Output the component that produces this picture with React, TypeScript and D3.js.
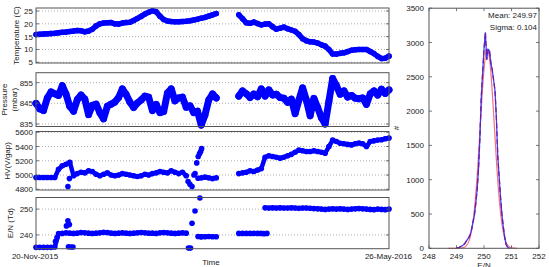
import React from 'react';
import * as d3 from 'd3';

// ---------- DATA ----------
const START = new Date(2015, 10, 20);
const END = new Date(2016, 4, 26);
const STEP_DAYS = 2;
const startLabel = '20-Nov-2015';
const endLabel = '26-May-2016';

const N = null;
const temperature: (number | null)[] = [
  15.8, 15.9, 16.0, 16.1, 16.2, 16.3, 16.5, 16.7, 16.8, 17.0, 17.2, 17.4, 17.3, 16.9, 17.2, 17.9, 19.2, 20.0, 20.3, 20.4,
  20.5, 20.0, 19.9, 20.3, 20.5, 20.6, 21.3, 22.1, 22.9, 23.8, 24.5, 25.1, 24.7, 23.0, 21.7, 21.1, 20.9, 20.8, 20.8, 20.9,
  21.0, 21.2, 21.5, 21.8, 22.2, 22.5, 23.0, 23.5, 24.0,
  N, N, N, N, N,
  23.5, 22.0, 20.4, 20.2, 20.7, 20.1, 19.6, 19.9, 20.0, 18.9, 17.9, 18.3, 18.7, 18.1, 17.6, 17.1, 15.8, 14.2, 13.4, 13.0,
  12.9, 12.5, 11.8, 11.3, 10.0, 8.2, 8.2, 8.5, 8.7, 9.2, 9.7, 9.9, 10.0, 10.0, 10.0, 9.2, 8.4, 7.3, 6.5, 6.6, 7.4,
];

const pressure: (number | null)[] = [
  845, 842.3, 841.5, 847.5, 850.5, 849.6, 848.8, 853.5, 849.4, 843.5, 841.2, 846.8, 849, 847, 839.5, 844, 844.6, 840.5, 837.5, 843.6,
  844.6, 845.6, 847.8, 852, 849.3, 845.6, 843, 845.2, 846.6, 848.5, 848, 841.5, 844.5, 840.5, 841, 850, 852, 846.2, 847.6, 848,
  843.1, 843.8, 840.5, 841.2, 834.5, 839.4, 846.6, 849.5, 847.6,
  N, N, N, N, N,
  848.5, 851, 849.6, 847.8, 849.5, 848.2, 852, 848.5, 851.5, 849, 849.4, 847.8, 847.5, 845.5, 847, 840, 846.5, 852.5, 846.5, 839,
  847.4, 843, 838, 835, 846, 857, 853.5, 849.4, 851, 848, 848.8, 847.5, 847.2, 847.6, 844.5, 849.6, 851, 849, 851.8, 849.8, 851.5,
];

const hv: (number | null)[] = [
  4965, 4965, 4965, 4965, 4965, 4965, 5080, 5130, 5150, 5180, 4990, 5020, 5040, 5030, 5060, 5050, 5010, 4990, 5010, 5030,
  5000, 4990, 5000, 5020, 5010, 5000, 4990, 4980, 4990, 5010, 5000, 5020, 5030, 5050, 5040, 5030, 5060, 5040, 5020, 5040,
  4990, N, N, N, 4960, 4970, 4960, 4950, 4960,
  N, N, N, N, N,
  5020, 5030, 5040, 5060, 5050, 5070, 5090, 5250, 5270, 5260, 5250, 5237, 5250, 5270, 5290, 5320, 5350, 5340, 5330, 5330,
  5340, 5330, 5320, 5306, 5400, 5490, 5470, 5446, 5440, 5430, 5423, 5440, 5450, 5440, 5400, 5470, 5480, 5490, 5495, 5510, 5520,
];
const hvExtraDays = [17.0, 17.8, 81.0, 82.0, 83.1, 84.1, 84.7, 85.6, 86.3, 86.4, 87.1, 87.7, 88.2];
const hvExtraValues = [4840, 4950, 4910, 4870, 4840, 5000, 5020, 5170, 4955, 5260, 5300, 5330, 5370];

const en: (number | null)[] = [
  235.2, 235.2, 235.2, 235.2, 235.2, 235.3, 240.5,
  240.6, 240.8, 240.7, 240.6, 240.7, 240.9, 240.8, 240.7, 240.6, 240.7, 240.8, 241.0, 240.9, 240.7, 240.6, 240.7, 240.8,
  240.7, 240.6, 240.7, 240.8, 240.9, 240.8, 240.7, 240.7, 240.6, 240.8, 240.9, 240.8, 240.7, 240.6, 240.7, 240.8, 240.7,
  N, N, N, 239.3, 239.3, 239.4, 239.3, 239.3,
  N, N, N, N, N,
  240.6, 240.6, 240.6, 240.6, 240.6, 240.6, N,
  250.5, 250.4, 250.5, 250.4, 250.5, 250.4, 250.4, 250.5, 250.4, 250.3, 250.4, 250.4, 250.3, 250.2, 250.1, 250.0, 249.9,
  250.0, 250.1, 250.0, 250.1, 250.0, 249.9, 250.0, 250.1, 250.2, 250.1, 250.0, 249.9, 249.8, 250.0, 249.9, 249.8, 250.0,
];
const enExtraDays = [10.4, 11.2, 16.2, 17.0, 17.8, 17.3, 18.6, 19.7, 81.2, 82.3, 83.1, 84.7, 87.3, 86.3, 87.9, 119.8, 121.4, 123.0];
const enExtraValues = [237.5, 239.0, 243.5, 245.5, 244.0, 235.4, 235.3, 235.3, 234.9, 234.9, 244.5, 249.3, 254.3, 239.4, 239.3, 240.6, 240.5, 240.6];

const tempTicks = [5, 10, 15, 20, 25];
const pressTicks = [835, 845, 855];
const hvTicks = [4800, 5000, 5200, 5400, 5600];
const enTicks = [240, 250];

// histogram of E/N
const histCenters = [
  249.0, 249.05, 249.1, 249.15, 249.2, 249.25, 249.3, 249.35, 249.4, 249.45,
  249.5, 249.55, 249.6, 249.65, 249.7, 249.75, 249.8, 249.85, 249.9, 249.95,
  250.0, 250.05, 250.1, 250.15, 250.2, 250.25, 250.3, 250.35, 250.4, 250.45,
  250.5, 250.55, 250.6, 250.65, 250.7, 250.75, 250.8, 250.85, 250.9, 250.95,
];
const histCounts = [
  5, 10, 15, 25, 35, 50, 70, 100, 130, 160,
  200, 280, 380, 480, 650, 850, 1150, 1600, 2200, 2550,
  2900, 3150, 2750, 2900, 2880, 2700, 2600, 2450, 2300, 1900,
  1350, 1050, 750, 500, 320, 170, 60, 20, 5, 0,
];
const fitMean = 250.12;
const fitSigma = 0.26;
const fitAmp = 2900;
const fitRange = [248.7, 251.2];
const histXTicks = [248, 249, 250, 251, 252];
const histYTicks = [0, 500, 1000, 1500, 2000, 2500, 3000, 3500];
const meanText = 'Mean: 249.97';
const sigmaText = 'Sigma: 0.104';

// ---------- LAYOUT ----------
const W = 549, H = 267;
const FONT = "'Liberation Sans', Arial, sans-serif";
const FS = 8;
const TXT = '#222';
const AX = '#555';
const BLUE = '#0000ff';
const xL = 36, xR = 389;

const dateAt = (i: number) => d3.timeDay.offset(START, i * STEP_DAYS);
const dayDate = (d: number) => new Date(START.getTime() + d * 86400000);

const x = d3.scaleTime().domain([START, END]).range([xL, xR]);

type Panel = {
  top: number; bottom: number; domain: [number, number]; ticks: number[];
  values: (number | null)[]; extraDays?: number[]; extraValues?: number[];
  width: number; r: number; labels: string[]; labelX: number[];
};

const panels: Panel[] = [
  { top: 8, bottom: 63, domain: [4.73, 26.17], ticks: tempTicks, values: temperature, width: 5.5, r: 2.8, labels: ['Temperature (C)'], labelX: [16] },
  { top: 72.7, bottom: 126.5, domain: [833.8, 859.8], ticks: pressTicks, values: pressure, width: 7, r: 3.4, labels: ['Pressure', '(mbar)'], labelX: [4, 14] },
  { top: 131.5, bottom: 190, domain: [4790, 5611], ticks: hvTicks, values: hv, extraDays: hvExtraDays, extraValues: hvExtraValues, width: 4.5, r: 2.8, labels: ['HV(V/gap)'], labelX: [7.5] },
  { top: 197.5, bottom: 248.7, domain: [234.67, 254.5], ticks: enTicks, values: en, extraDays: enExtraDays, extraValues: enExtraValues, width: 4.5, r: 2.8, labels: ['E/N (Td)'], labelX: [10.5] },
];

function TimePanel({ p }: { p: Panel }) {
  const y = d3.scaleLinear().domain(p.domain).range([p.bottom, p.top]);
  const line = d3.line<number | null>()
    .defined((v) => v != null)
    .x((_, i) => x(dateAt(i)))
    .y((v) => y(v as number));
  const cy = (p.top + p.bottom) / 2;
  return (
    <g>
      {p.ticks.map((t) => (
        <line key={'g' + t} x1={xL} x2={xR} y1={y(t)} y2={y(t)} stroke="#9a9a9a" strokeWidth={0.8} strokeDasharray="1,2" />
      ))}
      <path d={line(p.values) || ''} fill="none" stroke={BLUE} strokeWidth={p.width} strokeLinejoin="round" strokeLinecap="round" />
      {p.values.map((v, i) => v == null ? null : (
        <circle key={'c' + i} cx={x(dateAt(i))} cy={y(v)} r={p.r} fill={BLUE} />
      ))}
      {(p.extraDays || []).map((d, i) => (
        <circle key={'e' + i} cx={x(dayDate(d))} cy={y(p.extraValues![i])} r={2.8} fill={BLUE} />
      ))}
      <rect x={xL} y={p.top} width={xR - xL} height={p.bottom - p.top} fill="none" stroke={AX} strokeWidth={1} />
      {p.ticks.map((t) => (
        <g key={'t' + t}>
          <line x1={xL} x2={xL + 3} y1={y(t)} y2={y(t)} stroke={AX} strokeWidth={0.8} />
          <line x1={xR - 3} x2={xR} y1={y(t)} y2={y(t)} stroke={AX} strokeWidth={0.8} />
          <text x={33} y={y(t) + 3} textAnchor="end" fontSize={FS} fill={TXT}>{t}</text>
        </g>
      ))}
      {p.labels.map((l, k) => (
        <text key={'l' + k} transform={`translate(${p.labelX[k]},${cy}) rotate(-90)`} textAnchor="middle" dominantBaseline="central" fontSize={FS} fill={TXT}>{l}</text>
      ))}
    </g>
  );
}

function Histogram() {
  const hx = d3.scaleLinear().domain([248, 252]).range([429, 539]);
  const hy = d3.scaleLinear().domain([0, 3500]).range([248.3, 8.2]);
  const pts = histCenters.map((c, i) => [c, histCounts[i]] as [number, number]);
  const hline = d3.line<[number, number]>().x((d) => hx(d[0])).y((d) => hy(d[1]));
  const fitPts = d3.range(fitRange[0], fitRange[1] + 1e-9, 0.01).map(
    (v) => [v, fitAmp * Math.exp(-((v - fitMean) ** 2) / (2 * fitSigma * fitSigma))] as [number, number]
  );
  return (
    <g>
      <path d={hline(fitPts) || ''} fill="none" stroke="#f2707e" strokeWidth={1.2} />
      <path d={hline(pts) || ''} fill="none" stroke="#3a3aff" strokeWidth={1.2} />
      <path d={hline(pts) || ''} fill="none" stroke="#6a1fa0" strokeWidth={1.3} strokeDasharray="5,3" />
      <rect x={429} y={8.2} width={110} height={240.1} fill="none" stroke={AX} strokeWidth={1} />
      {histXTicks.map((t) => (
        <g key={'hx' + t}>
          <line x1={hx(t)} x2={hx(t)} y1={248.3} y2={245.3} stroke={AX} strokeWidth={0.8} />
          <line x1={hx(t)} x2={hx(t)} y1={8.2} y2={11.2} stroke={AX} strokeWidth={0.8} />
          <text x={hx(t)} y={259} textAnchor="middle" fontSize={FS} fill={TXT}>{t}</text>
        </g>
      ))}
      {histYTicks.map((t) => (
        <g key={'hy' + t}>
          <line x1={429} x2={432} y1={hy(t)} y2={hy(t)} stroke={AX} strokeWidth={0.8} />
          <line x1={536} x2={539} y1={hy(t)} y2={hy(t)} stroke={AX} strokeWidth={0.8} />
          <text x={424} y={hy(t) + 3} textAnchor="end" fontSize={FS} fill={TXT}>{t}</text>
        </g>
      ))}
      <text x={484} y={268} textAnchor="middle" fontSize={FS} fill={TXT}>E/N</text>
      <text transform="translate(396,128) rotate(-90)" textAnchor="middle" dominantBaseline="central" fontSize={FS} fill={TXT}>#</text>
      <text x={537} y={18} textAnchor="end" fontSize={FS} fill={TXT}>{meanText}</text>
      <text x={537} y={30} textAnchor="end" fontSize={FS} fill={TXT}>{sigmaText}</text>
    </g>
  );
}

export default function App() {
  return (
    <svg width={W} height={H} viewBox={`0 0 ${W} ${H}`} style={{ position: 'absolute', left: 0, top: 0, background: '#fff', fontFamily: FONT }}>
      <rect x={0} y={0} width={W} height={H} fill="#fff" />
      {panels.map((p, i) => <TimePanel key={i} p={p} />)}
      <text x={35} y={258.5} textAnchor="middle" fontSize={FS} fill={TXT}>{startLabel}</text>
      <text x={388.5} y={258.5} textAnchor="middle" fontSize={FS} fill={TXT}>{endLabel}</text>
      <text x={211} y={264.5} textAnchor="middle" fontSize={FS} fill={TXT}>Time</text>
      <Histogram />
    </svg>
  );
}
